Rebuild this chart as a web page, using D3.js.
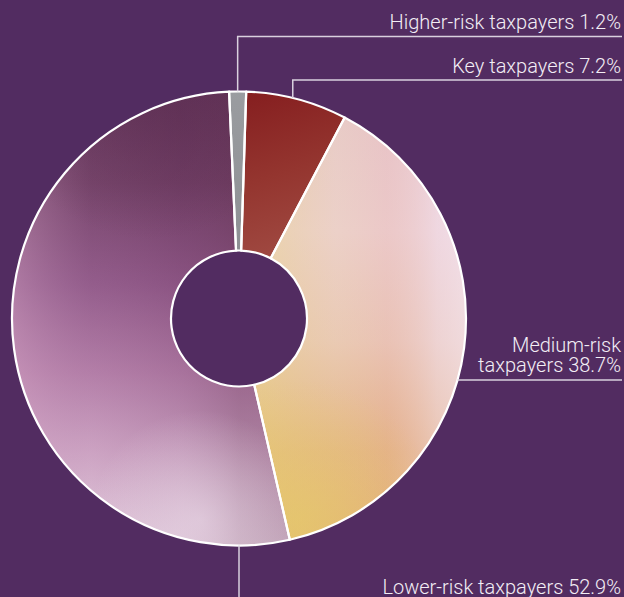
<!DOCTYPE html>
<html>
<head>
<meta charset="utf-8">
<script src="https://cdn.jsdelivr.net/npm/d3@7"></script>
<style>
  html, body { margin: 0; padding: 0; background: #522c61; }
  svg { display: block; }
</style>
</head>
<body>
<svg id="chart" width="624" height="597"></svg>
<script>
// ---- data ----
const categories = ["Higher-risk taxpayers", "Key taxpayers", "Medium-risk taxpayers", "Lower-risk taxpayers"];
const shares = [1.2, 7.2, 38.7, 52.9];
const labelLines = [
  ["Higher-risk taxpayers 1.2%"],
  ["Key taxpayers 7.2%"],
  ["Medium-risk", "taxpayers 38.7%"],
  ["Lower-risk taxpayers 52.9%"]
];

// ---- layout ----
const W = 624, H = 597;
const cx = 239, cy = 318.5, R = 227, r0 = 68;
const startDeg = -2.5;
const bg = "#522c61";

const svg = d3.select("#chart");
svg.append("rect").attr("width", W).attr("height", H).attr("fill", bg);

const defs = svg.append("defs");
// gradient coordinates given in page space, converted to the donut group's space
function lin(id, x1, y1, x2, y2, stops) {
  const g = defs.append("linearGradient").attr("id", id)
    .attr("gradientUnits", "userSpaceOnUse")
    .attr("x1", x1 - cx).attr("y1", y1 - cy).attr("x2", x2 - cx).attr("y2", y2 - cy);
  stops.forEach(s => g.append("stop").attr("offset", s[0]).attr("stop-color", s[1]).attr("stop-opacity", s[2] == null ? 1 : s[2]));
  return "url(#" + id + ")";
}
function rad(id, x, y, rr, stops) {
  const g = defs.append("radialGradient").attr("id", id)
    .attr("gradientUnits", "userSpaceOnUse")
    .attr("cx", x - cx).attr("cy", y - cy).attr("r", rr);
  stops.forEach(s => g.append("stop").attr("offset", s[0]).attr("stop-color", s[1]).attr("stop-opacity", s[2] == null ? 1 : s[2]));
  return "url(#" + id + ")";
}
// gradients approximating the photographic fills
const fills = [
  [lin("g0", 0, 90, 0, 250, [[0, "#9a9ca0"], [1, "#8e9094"]])],
  [lin("g1", 250, 95, 300, 255, [[0, "#861f20"], [0.5, "#94352f"], [1, "#a04a42"]])],
  [lin("g2a", 0, 100, 0, 540, [[0, "#e8cede"], [0.3, "#eed6e0"], [0.55, "#ebcdc4"], [0.8, "#e4b488"], [1, "#e2b070"]]),
   lin("g2b", 265, 0, 467, 0, [[0, "#e6d070", 0.45], [0.35, "#e6c080", 0.25], [0.6, "#e6a890", 0.3], [0.85, "#f0d8e0", 0.5], [1, "#f4e4ee", 0.6]]),
   rad("g2c", 300, 520, 140, [[0, "#e6cc6a", 0.6], [1, "#e6cc6a", 0]])],
  [lin("g3a", 0, 92, 0, 545, [[0, "#5e2f55"], [0.2, "#6e3c62"], [0.42, "#8e5686"], [0.62, "#b47ea8"], [0.8, "#d2aac8"], [1, "#ecd8e6"]]),
   lin("g3b", 12, 0, 239, 0, [[0, "#d8a8c8", 0.45], [0.35, "#b080a8", 0.15], [0.75, "#7a4670", 0.2], [1, "#6a3a5a", 0.35]]),
   rad("g3c", 200, 520, 110, [[0, "#f0e0ee", 0.55], [1, "#f0e0ee", 0]]),
   rad("g3d", 150, 90, 150, [[0, "#5a2c4e", 0.5], [1, "#5a2c4e", 0]])]
];

const pie = d3.pie().sort(null).value(d => d)
  .startAngle(startDeg * Math.PI / 180)
  .endAngle((startDeg + 360) * Math.PI / 180);
const arcs = pie(shares);
const arc = d3.arc().innerRadius(r0).outerRadius(R);

const gp = svg.append("g").attr("transform", `translate(${cx},${cy})`);
arcs.forEach((a, i) => {
  fills[i].forEach(f => {
    gp.append("path").attr("d", arc(a)).attr("fill", f);
  });
});
// slice borders
gp.selectAll("path.border").data(arcs).join("path").attr("class", "border")
  .attr("d", arc)
  .attr("fill", "none").attr("stroke", "#ffffff").attr("stroke-width", 2.2).attr("stroke-linejoin", "round");

// ---- labels with leader lines ----
const lineCol = "#d9d0de", textCol = "#f3eef5";
const fontSize = 20;
const rightX = 621;
const pt = (deg, rr) => [cx + rr * Math.sin(deg * Math.PI / 180), cy - rr * Math.cos(deg * Math.PI / 180)];
const lg = svg.append("g");

function label(lines, baseline) {
  const t = lg.append("text").attr("text-anchor", "end")
    .attr("font-family", "Roboto, 'Liberation Sans', Arial, sans-serif")
    .attr("font-weight", 300)
    .attr("font-size", fontSize).attr("fill", textCol);
  lines.forEach((s, k) => t.append("tspan").attr("x", rightX).attr("y", baseline + k * 20.5).text(s));
}
function poly(points) {
  lg.append("path").attr("d", d3.line()(points)).attr("fill", "none")
    .attr("stroke", lineCol).attr("stroke-width", 1.5);
}
// Higher-risk: vertical from top of slice then right
{
  const mid = (arcs[0].startAngle + arcs[0].endAngle) / 2 * 180 / Math.PI;
  const p = pt(mid, R);
  poly([[p[0], p[1]], [p[0], 36.5], [622, 36.5]]);
  label(labelLines[0], 29);
}
// Key
{
  const deg = 13.7;
  const p = pt(deg, R);
  poly([[p[0], p[1]], [p[0], 80], [622, 80]]);
  label(labelLines[1], 73);
}
// Medium-risk: horizontal line from arc edge
{
  const y = 380;
  const x = cx + Math.sqrt(R * R - (y - cy) * (y - cy));
  poly([[x, y], [622, y]]);
  label(labelLines[2], 351.5);
}
// Lower-risk: vertical down from bottom
{
  const p = pt(180, R);
  poly([[p[0], p[1]], [p[0], H]]);
  label(labelLines[3], 593.5);
}
</script>
</body>
</html>
